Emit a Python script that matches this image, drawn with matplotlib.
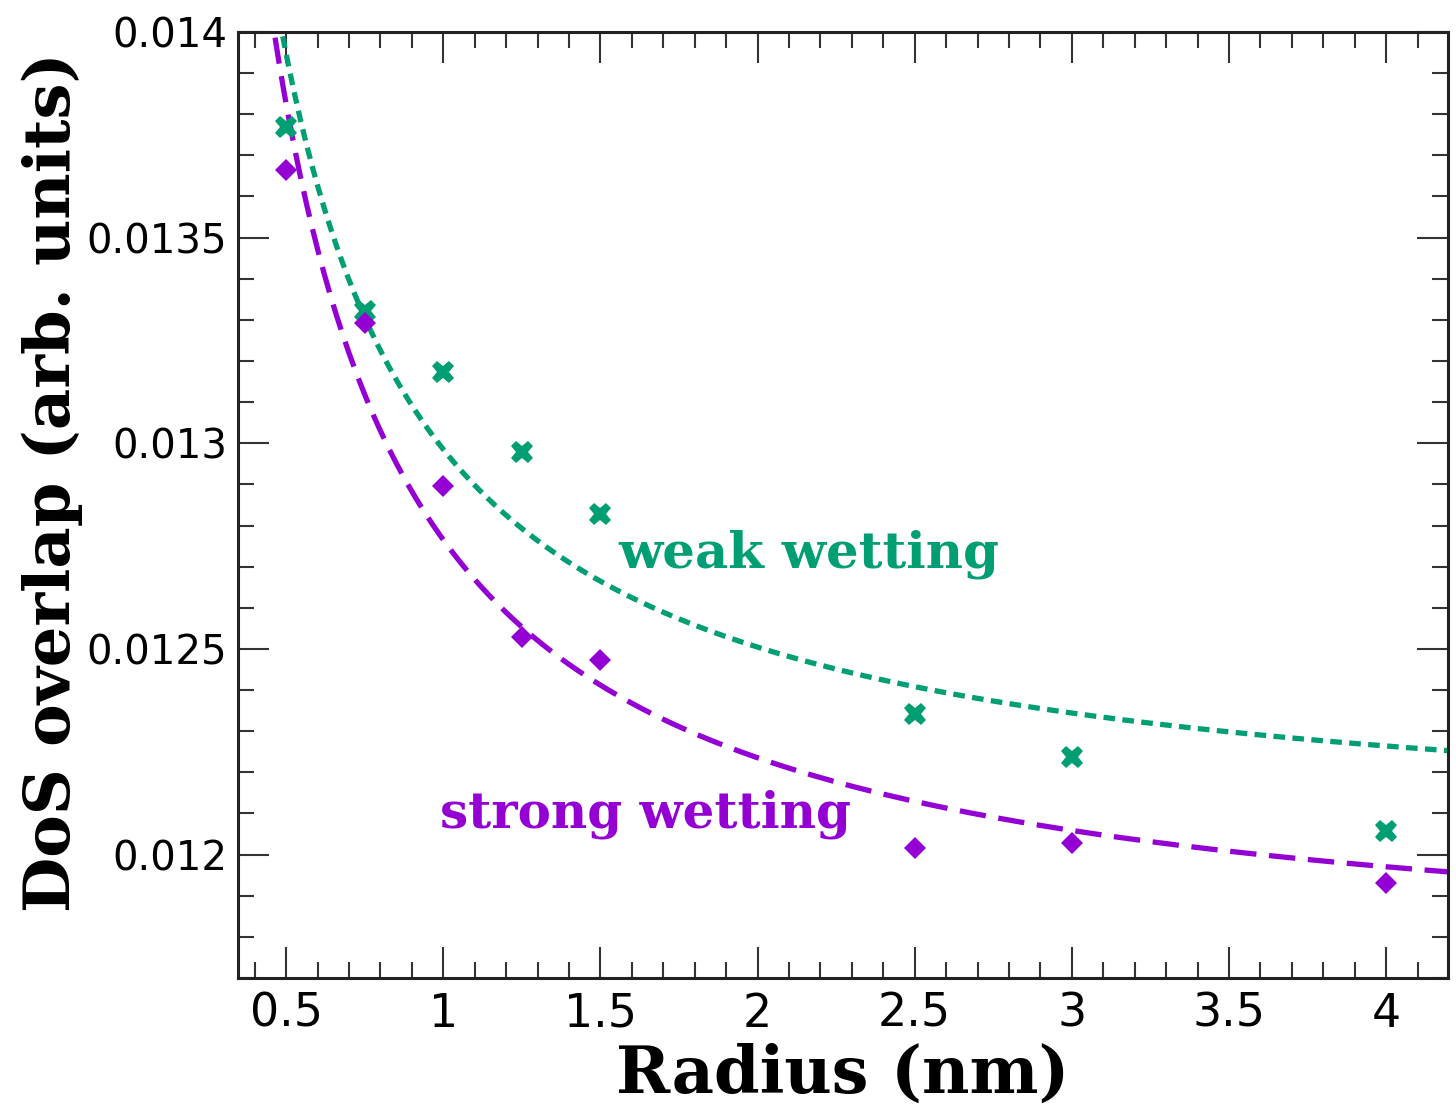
import numpy as np
import matplotlib
matplotlib.use("Agg")
import matplotlib.pyplot as plt
from matplotlib.ticker import MultipleLocator, FuncFormatter

# Data
radius = [0.5, 0.75, 1.0, 1.25, 1.5, 2.5, 3.0, 4.0]
weak_wetting = [0.013769, 0.013322, 0.013174, 0.012979, 0.012829, 0.012343, 0.012238, 0.012058]
strong_wetting = [0.013665, 0.013293, 0.012897, 0.012528, 0.012474, 0.012017, 0.012029, 0.011930]

xticks = [0.5, 1, 1.5, 2, 2.5, 3, 3.5, 4]
yticks = [0.012, 0.0125, 0.013, 0.0135, 0.014]

GREEN = "#009e73"
PURPLE = "#9400d3"

fig = plt.figure(figsize=(14.56, 11.14), dpi=100)
ax = fig.add_axes([0.1635, 0.1221, 0.831, 0.8492])

x = np.asarray(radius)
# least-squares fits of the form a + b / R
bw, aw = np.polyfit(1.0 / x, np.asarray(weak_wetting), 1)
bs, as_ = np.polyfit(1.0 / x, np.asarray(strong_wetting), 1)
xf = np.linspace(0.40, 4.25, 400)

ax.plot(xf, aw + bw / xf, color=GREEN, lw=3.8, ls=(0, (2.2, 1.4)))
ax.plot(xf, as_ + bs / xf, color=PURPLE, lw=3.8, ls=(0, (5.0, 2.4)))

ax.plot(radius, weak_wetting, ls="none", marker="X", ms=16, color=GREEN,
        markeredgewidth=0)
ax.plot(radius, strong_wetting, ls="none", marker="D", ms=11, color=PURPLE,
        markeredgewidth=0)

ax.set_xlim(0.347, 4.197)
ax.set_ylim(0.0117, 0.014)

ax.set_xticks(xticks)
ax.set_yticks(yticks)
ax.xaxis.set_minor_locator(MultipleLocator(0.1))
ax.yaxis.set_minor_locator(MultipleLocator(0.0001))
ax.xaxis.set_major_formatter(FuncFormatter(lambda v, p: f"{v:g}"))
ax.yaxis.set_major_formatter(FuncFormatter(lambda v, p: f"{v:g}"))

ax.tick_params(which="both", direction="in", top=True, right=True, width=1.5, color="#333333")
ax.tick_params(which="major", length=22)
ax.tick_params(which="minor", length=11.5)
ax.tick_params(axis="x", which="major", labelsize=33, pad=10)
ax.tick_params(axis="y", which="major", labelsize=29, pad=8)
for lab in ax.get_xticklabels() + ax.get_yticklabels():
    lab.set_family("DejaVu Sans")

for sp in ax.spines.values():
    sp.set_linewidth(2.2)
    sp.set_color("#222222")

ax.set_xlabel("Radius (nm)", family="DejaVu Serif", weight="bold", fontsize=47, labelpad=4)
ax.set_ylabel("DoS overlap (arb. units)", family="DejaVu Serif", weight="bold", fontsize=46)
ax.yaxis.set_label_coords(-0.128, 0.524)

ax.text(2.162, 0.012729, "weak wetting", color=GREEN, family="DejaVu Serif", weight="bold",
        fontsize=37, ha="center", va="center")
ax.text(1.643, 0.012097, "strong wetting", color=PURPLE, family="DejaVu Serif", weight="bold",
        fontsize=36, ha="center", va="center")

fig.savefig("out.png", dpi=100)
